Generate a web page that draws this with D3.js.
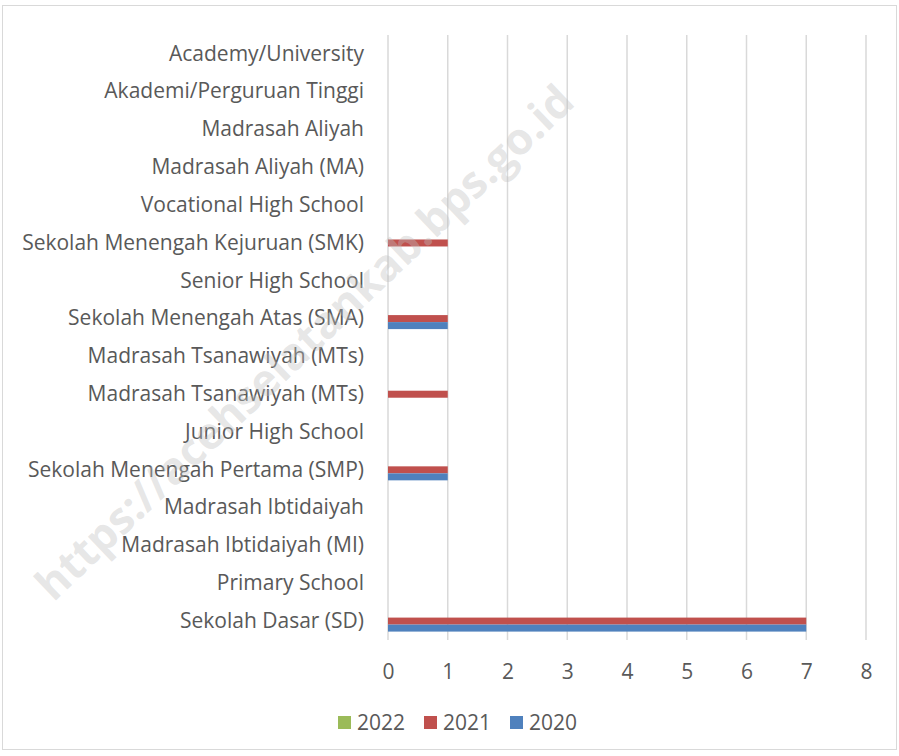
<!DOCTYPE html>
<html><head><meta charset="utf-8">
<script src="https://cdn.jsdelivr.net/npm/d3@7"></script>
<style>body{margin:0;background:#fff}svg{display:block}</style>
</head><body><svg id="c" width="899" height="756"></svg>
<script>
const categories = ["Academy/University","Akademi/Perguruan Tinggi","Madrasah Aliyah","Madrasah Aliyah (MA)","Vocational High School","Sekolah Menengah Kejuruan (SMK)","Senior High School","Sekolah Menengah Atas (SMA)","Madrasah Tsanawiyah (MTs)","Madrasah Tsanawiyah (MTs) ","Junior High School","Sekolah Menengah Pertama (SMP)","Madrasah Ibtidaiyah","Madrasah Ibtidaiyah (MI)","Primary School","Sekolah Dasar (SD)"];
const series = ["2022","2021","2020"];
const values2022 = [0,0,0,0,0,0,0,0,0,0,0,0,0,0,0,0];
const values2021 = [0,0,0,0,0,1,0,1,0,1,0,1,0,0,0,7];
const values2020 = [0,0,0,0,0,0,0,1,0,0,0,1,0,0,0,7];
const xTicks = [0,1,2,3,4,5,6,7,8];
const colors = {"2022":"#9bbb59","2021":"#c0504d","2020":"#4f81bd"};
const data = {"2022":values2022,"2021":values2021,"2020":values2020};

const svg = d3.select("#c");
const font = "'Open Sans', sans-serif";
const fs = 21;
svg.append("rect").attr("x",2.5).attr("y",5.5).attr("width",894).attr("height",744)
  .attr("fill","#fff").attr("stroke","#d9d9d9").attr("stroke-width",1);

const x = d3.scaleLinear().domain([0,8]).range([388,866]);
const y = d3.scaleBand().domain(categories).range([35,640]);
const barH = 7;
const off = {"2022":-barH*1.5,"2021":-barH*0.5,"2020":barH*0.5};

svg.append("g").selectAll("line").data(xTicks).join("line")
  .attr("x1",d=>x(d)).attr("x2",d=>x(d)).attr("y1",35).attr("y2",640)
  .attr("stroke","#d9d9d9").attr("stroke-width",1.5);

series.forEach(s=>{
  svg.append("g").selectAll("rect").data(categories).join("rect")
    .attr("x",x(0)).attr("y",(c)=>y(c)+y.bandwidth()/2+off[s])
    .attr("width",(c,i)=>x(data[s][i])-x(0)).attr("height",barH)
    .attr("fill",colors[s]);
});

const yAxis = svg.append("g").attr("transform","translate(388,0)")
  .call(d3.axisLeft(y).tickSize(0).tickPadding(24));
yAxis.select(".domain").remove();
yAxis.selectAll("text").attr("font-family",font).attr("font-size",fs).attr("fill","#595959");

const xAxis = svg.append("g").attr("transform","translate(0,640)")
  .call(d3.axisBottom(x).tickValues(xTicks).tickSize(0).tickPadding(24).tickFormat(d3.format("d")));
xAxis.select(".domain").remove();
xAxis.selectAll("text").attr("font-family",font).attr("font-size",fs).attr("fill","#595959");

const legX = [338,424,510];
const lg = svg.append("g");
series.forEach((s,i)=>{
  lg.append("rect").attr("x",legX[i]).attr("y",716).attr("width",13).attr("height",13).attr("fill",colors[s]);
  lg.append("text").attr("x",legX[i]+19).attr("y",730).attr("font-family",font).attr("font-size",fs).attr("fill","#595959").text(s);
});

svg.append("text").attr("transform","translate(307,345) rotate(-43.6)")
  .attr("text-anchor","middle").attr("dominant-baseline","middle")
  .attr("font-family","'Open Sans', sans-serif").attr("font-weight","bold").attr("font-size",44)
  .attr("fill","#bfbfbf").attr("fill-opacity",0.4).text("https://acehselatankab.bps.go.id");
</script></body></html>
